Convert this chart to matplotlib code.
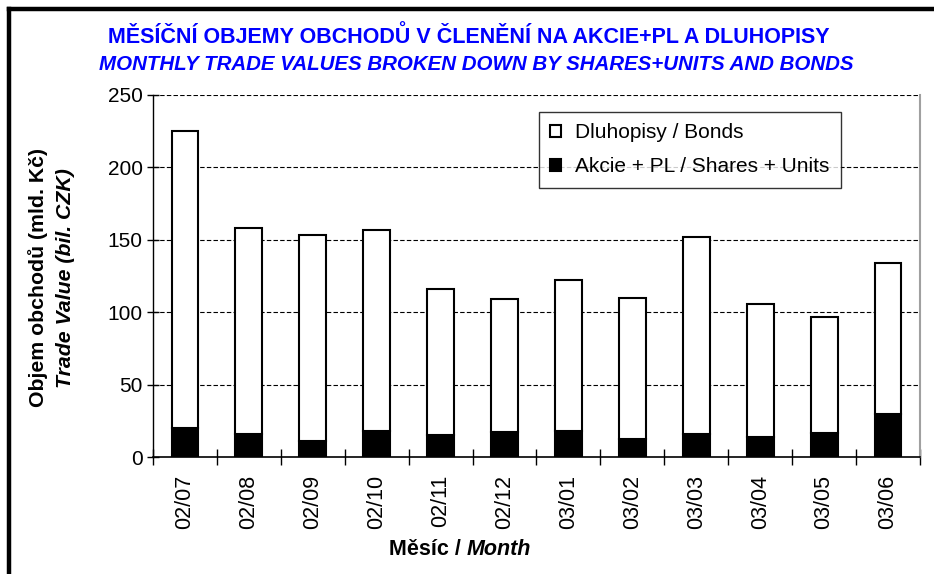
import matplotlib
matplotlib.use('Agg')
import matplotlib.pyplot as plt
import matplotlib.lines as mlines
from matplotlib.ticker import FixedLocator
import numpy as np

plt.rcParams['font.family'] = ['Liberation Sans', 'DejaVu Sans']

months = ['02/07', '02/08', '02/09', '02/10', '02/11', '02/12',
          '03/01', '03/02', '03/03', '03/04', '03/05', '03/06']
# akcie + PL (shares + units), mld. Kc
shares = [20, 16, 11, 18, 15, 17.5, 18, 12.5, 16, 13.5, 16.5, 29.5]
# dluhopisy (bonds), mld. Kc
bonds = [205, 142, 142, 139, 101, 91.5, 104, 97.5, 136, 92.5, 80.5, 104.5]
yticks = [0, 50, 100, 150, 200, 250]

title_cz = 'MĚSÍČNÍ OBJEMY OBCHODŮ V ČLENĚNÍ NA AKCIE+PL A DLUHOPISY'
title_en = 'MONTHLY TRADE VALUES BROKEN DOWN BY SHARES+UNITS AND BONDS'
blue = '#0000ff'

fig = plt.figure(figsize=(9.34, 5.74), dpi=100)
ax = fig.add_axes([0.1638, 0.2038, 0.8212, 0.6307])

x = np.arange(len(months))
w = 0.42
ax.bar(x, shares, w, color='black', edgecolor='black', linewidth=1.5,
       label='Akcie + PL / Shares + Units', zorder=3)
ax.bar(x, bonds, w, bottom=shares, color='white', edgecolor='black',
       linewidth=1.5, label='Dluhopisy / Bonds', zorder=3)

ax.set_xlim(-0.5, len(months) - 0.5)
ax.set_ylim(0, 250)
ax.set_yticks(yticks)
ax.set_xticks(x)
ax.set_xticklabels(months, rotation=90, fontsize=15.5)
ax.xaxis.set_minor_locator(FixedLocator(np.arange(-0.5, len(months), 1)))
ax.tick_params(axis='x', which='major', length=0, pad=13)
ax.tick_params(axis='x', which='minor', length=12, direction='inout', width=1)
ax.tick_params(axis='y', direction='inout', length=9, width=1, labelsize=15, pad=3)

for yv in yticks[1:]:
    ax.axhline(yv, color='black', linewidth=0.8, linestyle=(0, (4, 2)), zorder=1)

ax.spines['top'].set_visible(False)
ax.spines['right'].set_color('#a0a0a0')
ax.spines['right'].set_linewidth(1.5)
ax.spines['left'].set_linewidth(1)
ax.spines['bottom'].set_linewidth(1.2)

# legend: bonds first
h, l = ax.get_legend_handles_labels()
leg = ax.legend([h[1], h[0]], [l[1], l[0]], loc='upper left',
                bbox_to_anchor=(0.503, 0.953), fontsize=15, frameon=True,
                fancybox=False, edgecolor='black', handlelength=0.5,
                handleheight=0.5, handletextpad=0.7, labelspacing=0.72,
                borderpad=0.55, borderaxespad=0)
leg.get_frame().set_linewidth(1)

# titles
fig.text(0.502, 0.936, title_cz, ha='center', va='center', color=blue,
         fontsize=15.5, fontweight='bold')
fig.text(0.51, 0.887, title_en, ha='center', va='center', color=blue,
         fontsize=14.8, fontweight='bold', style='italic')

# y labels
fig.text(0.041, 0.516, 'Objem obchodů (mld. Kč)', rotation=90, ha='center',
         va='center', fontsize=15.3, fontweight='bold')
fig.text(0.07, 0.516, 'Trade Value (bil. CZK)', rotation=90, ha='center',
         va='center', fontsize=15.3, fontweight='bold', style='italic')

# x label
fig.text(0.5, 0.042, 'Měsíc / ', ha='right', va='center',
         fontsize=15.5, fontweight='bold')
fig.text(0.5, 0.042, 'Month', ha='left', va='center', fontsize=15.5,
         fontweight='bold', style='italic')

# outer frame (left and top only visible)
fig.add_artist(mlines.Line2D([9 / 934, 9 / 934], [-0.1, 1 - 9 / 574],
                             color='black', linewidth=3.2))
fig.add_artist(mlines.Line2D([9 / 934, 1.05], [1 - 9 / 574, 1 - 9 / 574],
                             color='black', linewidth=3.2))

fig.savefig('out.png', dpi=100)
